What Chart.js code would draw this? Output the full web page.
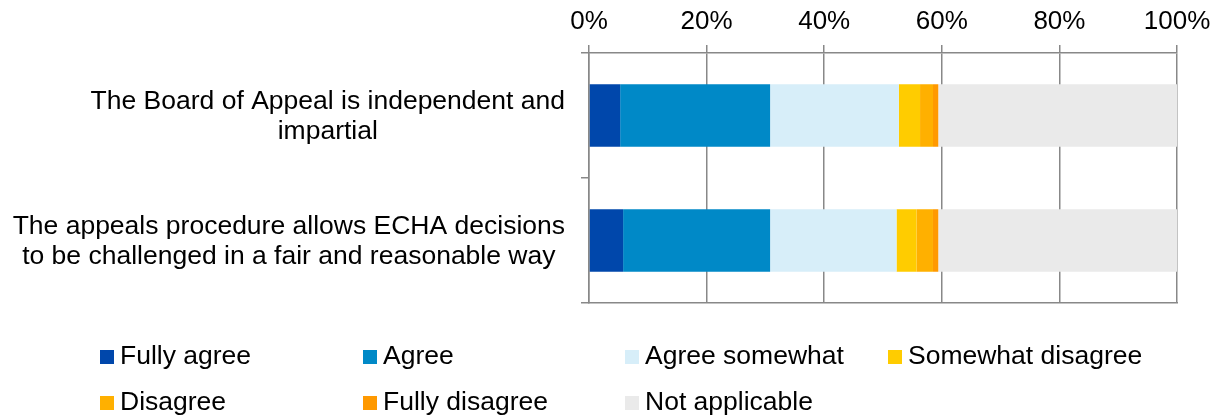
<!DOCTYPE html>
<html>
<head>
<meta charset="utf-8">
<script src="https://cdn.jsdelivr.net/npm/chart.js@4/dist/chart.umd.min.js"></script>
<style>
  html, body { margin: 0; padding: 0; background: #fff; }
  canvas { display: block; }
</style>
</head>
<body>
<canvas id="chart" width="1222" height="419"></canvas>
<script>
const statements = [
  ['The Board of Appeal is independent and', 'impartial'],
  ['The appeals procedure allows ECHA decisions', 'to be challenged in a fair and reasonable way'],
]
const answers = ['Fully agree', 'Agree', 'Agree somewhat', 'Somewhat disagree', 'Disagree', 'Fully disagree', 'Not applicable']

// share of respondents, %
const fullyAgree = [5.3, 5.8]
const agree = [25.5, 25.0]
const agreeSomewhat = [21.9, 21.5]
const somewhatDisagree = [3.6, 3.4]
const disagree = [2.2, 2.8]
const fullyDisagree = [0.9, 0.9]
const notApplicable = [40.6, 40.6]

const xTicks = [0, 20, 40, 60, 80, 100]

const colors = ['#0047ab', '#0089c7', '#d7eef9', '#ffcc00', '#ffb000', '#ff9900', '#eaeaea']
const series = [fullyAgree, agree, agreeSomewhat, somewhatDisagree, disagree, fullyDisagree, notApplicable]

const FONT = "'Liberation Sans', Arial, sans-serif"
const FONT_SIZE = 26.5
const GRID = '#888888'

// category labels: each label is centred on itself, block right-aligned to the axis
const categoryLabels = {
  id: 'categoryLabels',
  afterDraw(chart) {
    const { ctx, scales } = chart
    const y = scales.y
    const rightEdge = y.left + y.width - 24
    const lineH = 30
    ctx.save()
    ctx.font = `${FONT_SIZE}px ${FONT}`
    ctx.fillStyle = '#000'
    ctx.textAlign = 'center'
    ctx.textBaseline = 'middle'
    statements.forEach((lines, i) => {
      const w = Math.max(...lines.map((l) => ctx.measureText(l).width))
      const cx = rightEdge - w / 2
      const cy = y.getPixelForValue(i) + 1
      lines.forEach((l, j) => {
        ctx.fillText(l, cx, cy + (j - (lines.length - 1) / 2) * lineH)
      })
    })
    ctx.restore()
  },
}

// legend in fixed columns below the plot
const gridLegend = {
  id: 'gridLegend',
  afterDraw(chart) {
    const { ctx } = chart
    const cols = [100, 363, 625, 888]
    const rows = [357, 403]
    ctx.save()
    ctx.font = `${FONT_SIZE}px ${FONT}`
    ctx.textBaseline = 'middle'
    ctx.textAlign = 'left'
    chart.data.datasets.forEach((ds, i) => {
      const x = cols[i % 4]
      const yy = rows[Math.floor(i / 4)]
      ctx.fillStyle = ds.backgroundColor
      ctx.fillRect(x, yy - 7, 14, 14)
      ctx.fillStyle = '#000'
      ctx.fillText(ds.label, x + 20, yy)
    })
    ctx.restore()
  },
}

new Chart(document.getElementById('chart'), {
  type: 'bar',
  data: {
    labels: statements.map((s) => s.join(' ')),
    datasets: answers.map((label, i) => ({
      label,
      data: series[i],
      backgroundColor: colors[i],
      borderWidth: 0,
      barPercentage: 0.5,
      categoryPercentage: 1,
      xAxisID: 'x',
    })),
  },
  options: {
    indexAxis: 'y',
    responsive: false,
    animation: false,
    events: [],
    layout: { padding: { left: 0, right: 45, top: 0, bottom: 116 } },
    plugins: {
      legend: { display: false },
      tooltip: { enabled: false },
    },
    scales: {
      x: {
        position: 'top',
        stacked: true,
        min: 0,
        max: 100,
        afterBuildTicks: (s) => { s.ticks = xTicks.map((v) => ({ value: v })) },
        afterFit: (s) => { s.height = 53 },
        ticks: {
          callback: (v) => v + '%',
          color: '#000',
          font: { family: FONT, size: 26 },
          padding: 8,
          maxRotation: 0,
        },
        grid: { color: GRID, lineWidth: 1.5, tickLength: 8 },
        border: { color: GRID, width: 1.5 },
      },
      xBottom: {
        position: 'bottom',
        min: 0,
        max: 100,
        ticks: { display: false },
        grid: { display: false },
        afterFit: (s) => { s.height = 0 },
        border: { color: GRID, width: 1.5 },
      },
      y: {
        stacked: true,
        afterFit: (s) => { s.width = 589 },
        ticks: { display: false },
        grid: { offset: true, drawOnChartArea: false, color: GRID, lineWidth: 1.5, tickLength: 8 },
        border: { color: GRID, width: 1.5 },
      },
    },
  },
  plugins: [categoryLabels, gridLegend],
})
</script>
</body>
</html>
